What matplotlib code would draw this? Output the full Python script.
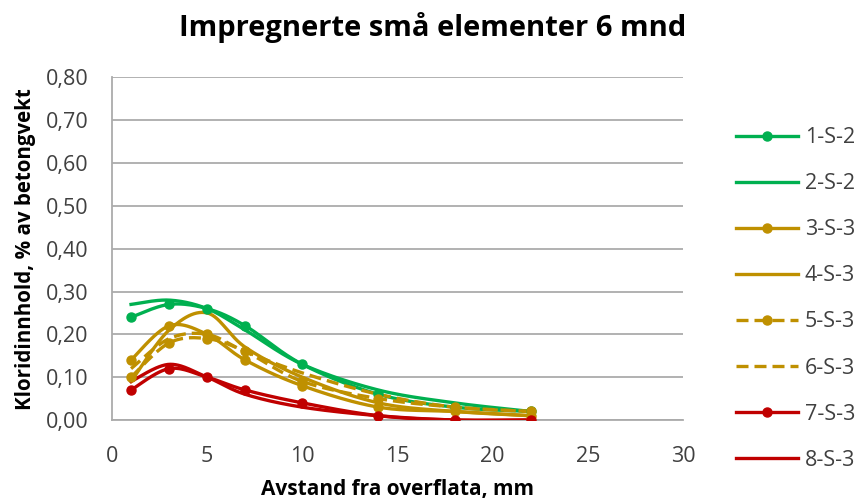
import numpy as np
import matplotlib
matplotlib.use("Agg")
import matplotlib.pyplot as plt

# distance from surface (mm) and chloride content (% of concrete weight)
depth = [1, 3, 5, 7, 10, 14, 18, 22]
s1 = [0.24, 0.27, 0.26, 0.22, 0.13, 0.06, 0.03, 0.02]
s2 = [0.27, 0.28, 0.26, 0.21, 0.13, 0.07, 0.04, 0.02]
s3 = [0.14, 0.22, 0.20, 0.14, 0.08, 0.03, 0.02, 0.01]
s4 = [0.09, 0.21, 0.25, 0.17, 0.10, 0.04, 0.02, 0.01]
s5 = [0.10, 0.18, 0.19, 0.16, 0.09, 0.05, 0.03, 0.02]
s6 = [0.12, 0.19, 0.20, 0.16, 0.11, 0.06, 0.03, 0.02]
s7 = [0.07, 0.12, 0.10, 0.07, 0.04, 0.01, 0.00, 0.00]
s8 = [0.09, 0.13, 0.10, 0.06, 0.03, 0.01, 0.00, 0.00]
labels = ['1-S-2', '2-S-2', '3-S-3', '4-S-3', '5-S-3', '6-S-3', '7-S-3', '8-S-3']

xticks = [0, 5, 10, 15, 20, 25, 30]
yticks = [0.0, 0.1, 0.2, 0.3, 0.4, 0.5, 0.6, 0.7, 0.8]

green = '#00B050'
gold = '#BF9000'
red = '#C00000'

# colour, linestyle, marker per series
styles = [
    (green, '-', 'o'), (green, '-', None),
    (gold, '-', 'o'), (gold, '-', None),
    (gold, (0, (3.6, 1.8)), 'o'), (gold, (0, (3.6, 1.8)), None),
    (red, '-', 'o'), (red, '-', None),
]


def smooth(x, y, n=30):
    # Excel-like smoothed line: Catmull-Rom as cubic bezier segments
    p = np.column_stack([x, y]).astype(float)
    pts = [p[0]]
    for i in range(len(p) - 1):
        p0 = p[i - 1] if i > 0 else p[i]
        p1, p2 = p[i], p[i + 1]
        p3 = p[i + 2] if i + 2 < len(p) else p[i + 1]
        c1 = p1 + (p2 - p0) / 6
        c2 = p2 - (p3 - p1) / 6
        t = np.linspace(0, 1, n)[1:, None]
        seg = ((1 - t) ** 3) * p1 + 3 * ((1 - t) ** 2) * t * c1 + 3 * (1 - t) * t ** 2 * c2 + t ** 3 * p2
        pts.extend(seg)
    pts = np.array(pts)
    return pts[:, 0], pts[:, 1]


plt.rcParams['font.family'] = ['Open Sans', 'DejaVu Sans']

fig = plt.figure(figsize=(8.65, 5.03), dpi=100)
ax = fig.add_axes([0.1295, 0.165, 0.66, 0.681])

series = [s1, s2, s3, s4, s5, s6, s7, s8]
for vals, lab, (c, ls, mk) in zip(series, labels, styles):
    xs, ys = smooth(depth, vals)
    ax.plot(xs, ys, color=c, linestyle=ls, linewidth=2.4, zorder=3)
    if mk:
        ax.plot(depth, vals, linestyle='none', marker=mk, markersize=6.5, color=c, zorder=4)
    # legend proxy
    ax.plot([], [], color=c, linestyle=ls, linewidth=2.4, marker=mk, markersize=6.5, label=lab)

ax.set_xlim(0, 30)
ax.set_ylim(0, 0.8)
ax.set_xticks(xticks)
ax.set_yticks(yticks)
ax.set_yticklabels([f'{v:.2f}'.replace('.', ',') for v in yticks])
ax.tick_params(length=0, labelsize=15.5, colors='#404040')
ax.tick_params(axis='y', pad=17)
ax.tick_params(axis='x', pad=18.5)
ax.grid(axis='y', color='#ababab', linewidth=1.3)
ax.set_axisbelow(True)
for side in ['top', 'right']:
    ax.spines[side].set_visible(False)
for side in ['left', 'bottom']:
    ax.spines[side].set_color('#ababab')
    ax.spines[side].set_linewidth(1.3)

ax.set_xlabel('Avstand fra overflata, mm', fontsize=15, fontweight='bold', labelpad=9)
ax.set_ylabel('Kloridinnhold, % av betongvekt', fontsize=14.8, fontweight='bold', labelpad=7)
fig.text(0.5, 0.945, 'Impregnerte små elementer 6 mnd', ha='center', va='center',
         fontsize=21, fontweight='bold')

leg = ax.legend(loc='upper left', bbox_to_anchor=(1.078, 0.88), frameon=False,
                fontsize=15.5, handlelength=2.9, labelspacing=1.165, handletextpad=0.3,
                borderaxespad=0)
for t in leg.get_texts():
    t.set_color('#404040')

fig.savefig('out.png', dpi=100)
